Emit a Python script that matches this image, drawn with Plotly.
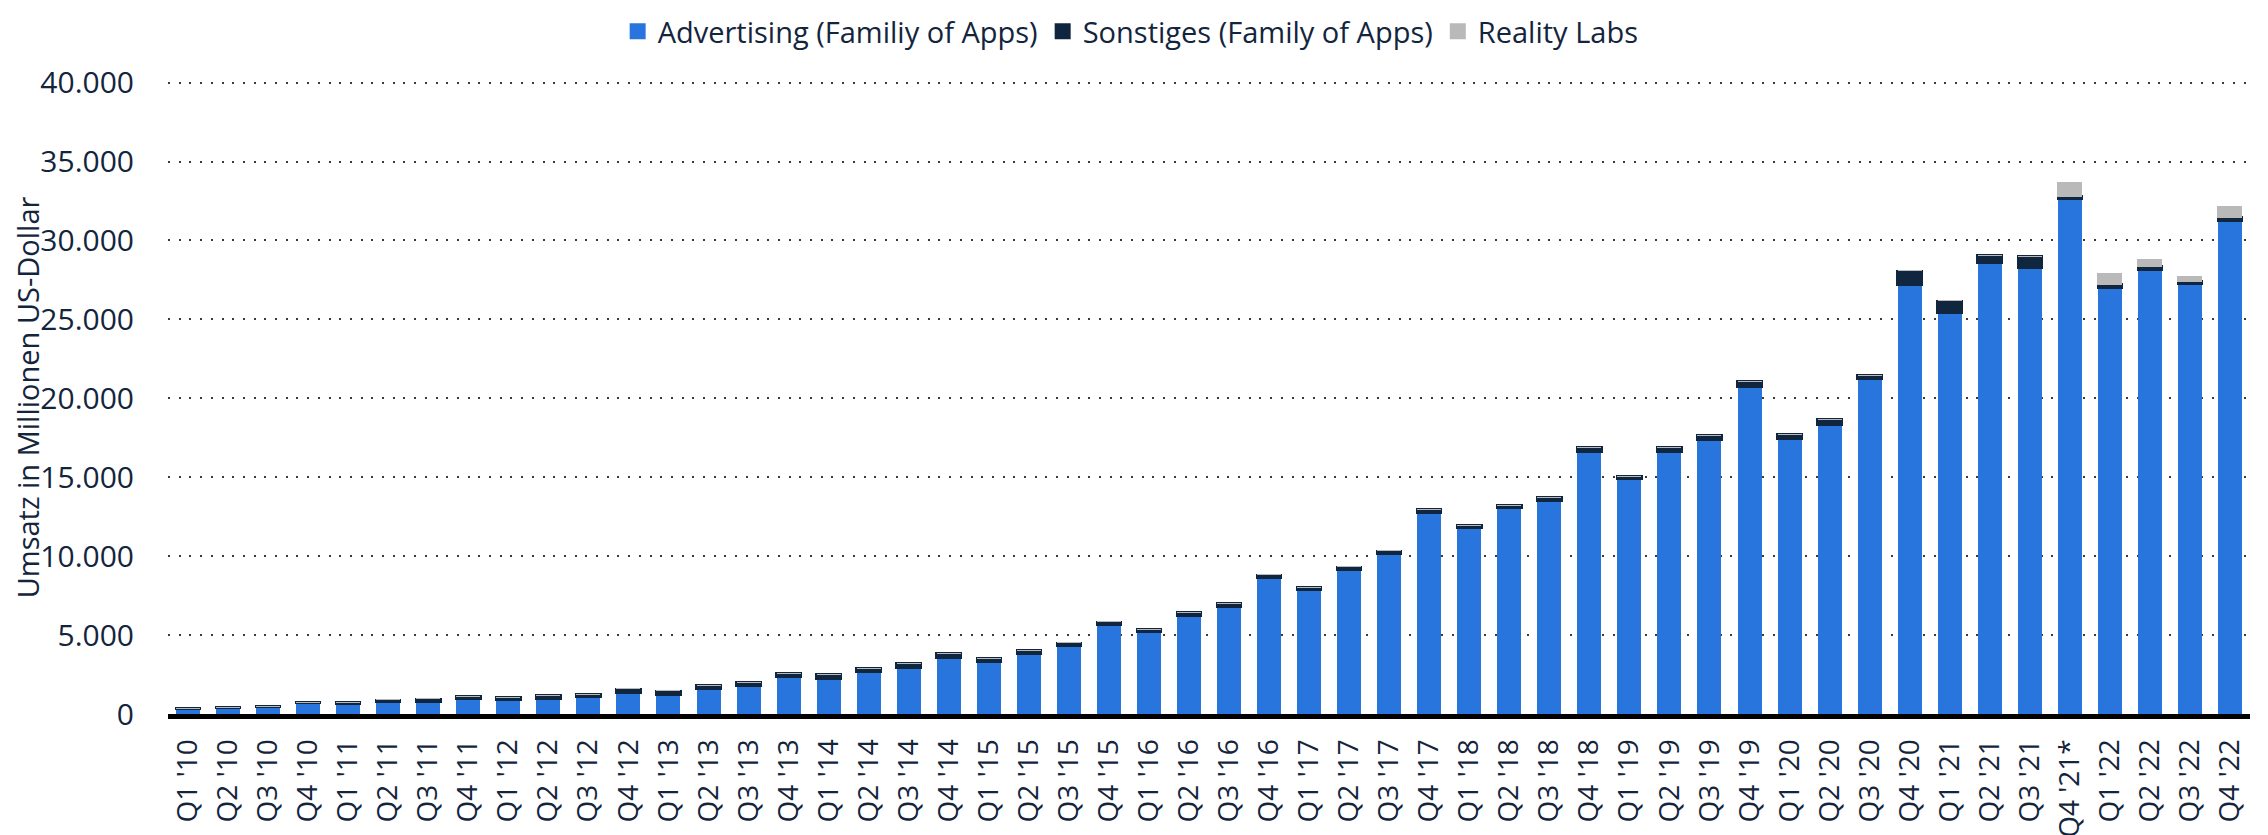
import plotly.graph_objects as go

quartale = ["Q1 '10", "Q2 '10", "Q3 '10", "Q4 '10",
            "Q1 '11", "Q2 '11", "Q3 '11", "Q4 '11",
            "Q1 '12", "Q2 '12", "Q3 '12", "Q4 '12",
            "Q1 '13", "Q2 '13", "Q3 '13", "Q4 '13",
            "Q1 '14", "Q2 '14", "Q3 '14", "Q4 '14",
            "Q1 '15", "Q2 '15", "Q3 '15", "Q4 '15",
            "Q1 '16", "Q2 '16", "Q3 '16", "Q4 '16",
            "Q1 '17", "Q2 '17", "Q3 '17", "Q4 '17",
            "Q1 '18", "Q2 '18", "Q3 '18", "Q4 '18",
            "Q1 '19", "Q2 '19", "Q3 '19", "Q4 '19",
            "Q1 '20", "Q2 '20", "Q3 '20", "Q4 '20",
            "Q1 '21", "Q2 '21", "Q3 '21", "Q4 '21*",
            "Q1 '22", "Q2 '22", "Q3 '22", "Q4 '22"]

advertising = [322, 404, 437, 705,
               637, 776, 798, 943,
               872, 992, 1086, 1329,
               1245, 1599, 1798, 2344,
               2265, 2676, 2957, 3594,
               3317, 3827, 4299, 5637,
               5201, 6239, 6816, 8629,
               7857, 9164, 10142, 12779,
               11795, 13038, 13539, 16640,
               14912, 16624, 17383, 20736,
               17440, 18321, 21221, 27187,
               25439, 28580, 28276, 32639,
               26998, 28152, 27237, 31254]

sonstiges = [23, 27, 30, 26,
             94, 119, 156, 188,
             186, 192, 176, 256,
             213, 214, 218, 241,
             237, 234, 246, 257,
             226, 215, 202, 204,
             181, 197, 195, 180,
             175, 157, 186, 193,
             171, 193, 188, 274,
             165, 262, 269, 346,
             297, 366, 249, 885,
             732, 497, 734, 155,
             215, 218, 192, 184]

reality_labs = [0] * 47 + [877, 695, 452, 285, 727]

text_farbe = '#13253d'

serien = [('Advertising (Familiy of Apps)', advertising, '#2876dd', 0),
          ('Sonstiges (Family of Apps)', sonstiges, '#10263f', 2.5),
          ('Reality Labs', reality_labs, '#b9b9b9', 1)]

fig = go.Figure()
for name, werte, farbe, rand in serien:
    fig.add_trace(go.Bar(x=quartale, y=werte, name=name, showlegend=False,
                         marker=dict(color=farbe, line=dict(color=farbe, width=rand))))
    # legend entry with a bigger square
    fig.add_trace(go.Scatter(x=[None], y=[None], mode='markers', name=name,
                             marker=dict(symbol='square', size=20, color=farbe)))

# the page body keeps its 8px default margin, so the margins are shifted by 8px
fig.update_layout(
    barmode='stack',
    bargap=0.4,
    width=2268, height=835,
    separators=',.',
    font=dict(family='Open Sans', size=29, color=text_farbe),
    paper_bgcolor='white',
    plot_bgcolor='white',
    margin=dict(l=160, r=26, t=73, b=129, autoexpand=False),
    legend=dict(orientation='h', x=0.495, xanchor='center', xref='container',
                y=0.972, yanchor='middle', yref='container',
                font=dict(size=29), traceorder='normal',
                itemwidth=30, tracegroupgap=0),
)

fig.update_yaxes(
    range=[0, 40100], tickvals=[0, 5000, 10000, 15000, 20000, 25000, 30000, 35000, 40000],
    tickformat=',d', automargin=False,
    showgrid=True, gridcolor='#3a3a3a', gridwidth=2, griddash='2px,8.7px',
    zeroline=False, ticklabelstandoff=33,
    title=dict(text='Umsatz in Millionen US-Dollar', font=dict(size=29), standoff=6),
    tickfont=dict(size=30),
)
fig.update_xaxes(
    tickangle=-90, showline=True, linecolor='black', linewidth=5,
    automargin=False, ticklabelstandoff=9, tickfont=dict(size=28),
)

fig.write_html("out.html")
